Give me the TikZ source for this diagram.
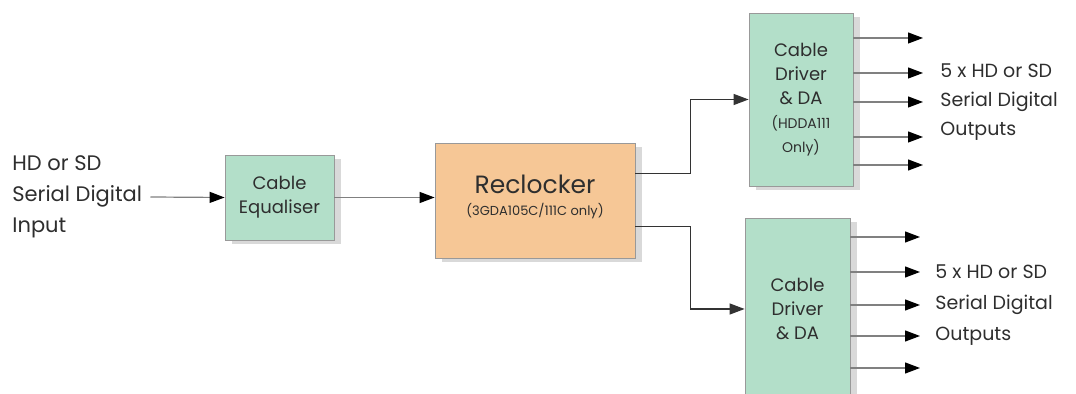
\documentclass[tikz,border=0pt]{standalone}
\usepackage{fontspec}
\setmainfont{Poppins}
\usetikzlibrary{arrows.meta,shadows}
\definecolor{boxgreen}{HTML}{B3DFC9}
\definecolor{boxorange}{HTML}{F6C796}
\definecolor{txtgrey}{HTML}{2E2E2E}

\begin{document}
\begin{tikzpicture}[x=0.5pt,y=-0.5pt,
    every node/.style={text=txtgrey,font=\fontsize{9}{12}\selectfont},
    blk/.style={draw=gray!80,thin,align=center,inner sep=0pt,
      drop shadow={opacity=0.3,shadow xshift=3.5pt,shadow yshift=-2pt}},
    lbl/.style={align=left,anchor=west,inner sep=0pt},
    link/.style={draw=black!80,line width=0.6pt,-{Triangle[length=7.5pt,width=5.5pt]}},
    outl/.style={draw=gray,line width=0.6pt,-{Triangle[length=7.5pt,width=5.5pt,color=black]}}]
  \clip (0,0) rectangle (1076,394);

  \node[lbl,font=\fontsize{10.5}{15.5}\selectfont] (in) at (12,197) {HD or SD\\Serial Digital\\Input};
  \node[blk,fill=boxgreen,minimum width=54.5pt,minimum height=42.5pt] (eq) at (279.5,197.5) {Cable\\Equaliser};
  \node[blk,fill=boxorange,minimum width=100pt,minimum height=57.5pt,text depth=5pt] (rc) at (535,200.5)
    {{\fontsize{12.5}{14}\selectfont Reclocker}\\[-1pt]{\fontsize{6.5}{8}\selectfont(3GDA105C/111C only)}};
  \node[blk,fill=boxgreen,minimum width=52pt,minimum height=86.5pt] (drvA) at (801,99.5)
    {Cable\\Driver\\\& DA\\{\fontsize{7}{10}\selectfont(HDDA111}\\{\fontsize{7}{10}\selectfont Only)}};
  \node[blk,fill=boxgreen,minimum width=52.5pt,minimum height=91pt] (drvB) at (797.5,309) {Cable\\Driver\\\& DA};

  \node[lbl,font=\fontsize{9.5}{14.5}\selectfont] (outA) at (940,102) {5 x HD or SD\\Serial Digital\\Outputs};
  \node[lbl,font=\fontsize{9.5}{15.5}\selectfont] (outB) at (935,305) {5 x HD or SD\\Serial Digital\\Outputs};

  \draw[outl] ([xshift=4pt]in.east) -- (eq.west);
  \draw[outl] (eq.east) -- (eq.east -| rc.west);
  \draw[link] ([yshift=13.5pt]rc.east) -- ++(55,0) |- (drvA);
  \draw[link] ([yshift=-13pt]rc.east) -- ++(55,0) |- (drvB);

  % five outputs from each driver
  \foreach \y [count=\i] in {38,73,102,137,165}{
    \coordinate (a\i) at (923,\y);
    \draw[outl] (drvA.east |- a\i) -- (a\i);
  }
  \foreach \y [count=\i] in {237,272,305,336,368}{
    \coordinate (b\i) at (920,\y);
    \draw[outl] (drvB.east |- b\i) -- (b\i);
  }
\end{tikzpicture}
\end{document}
